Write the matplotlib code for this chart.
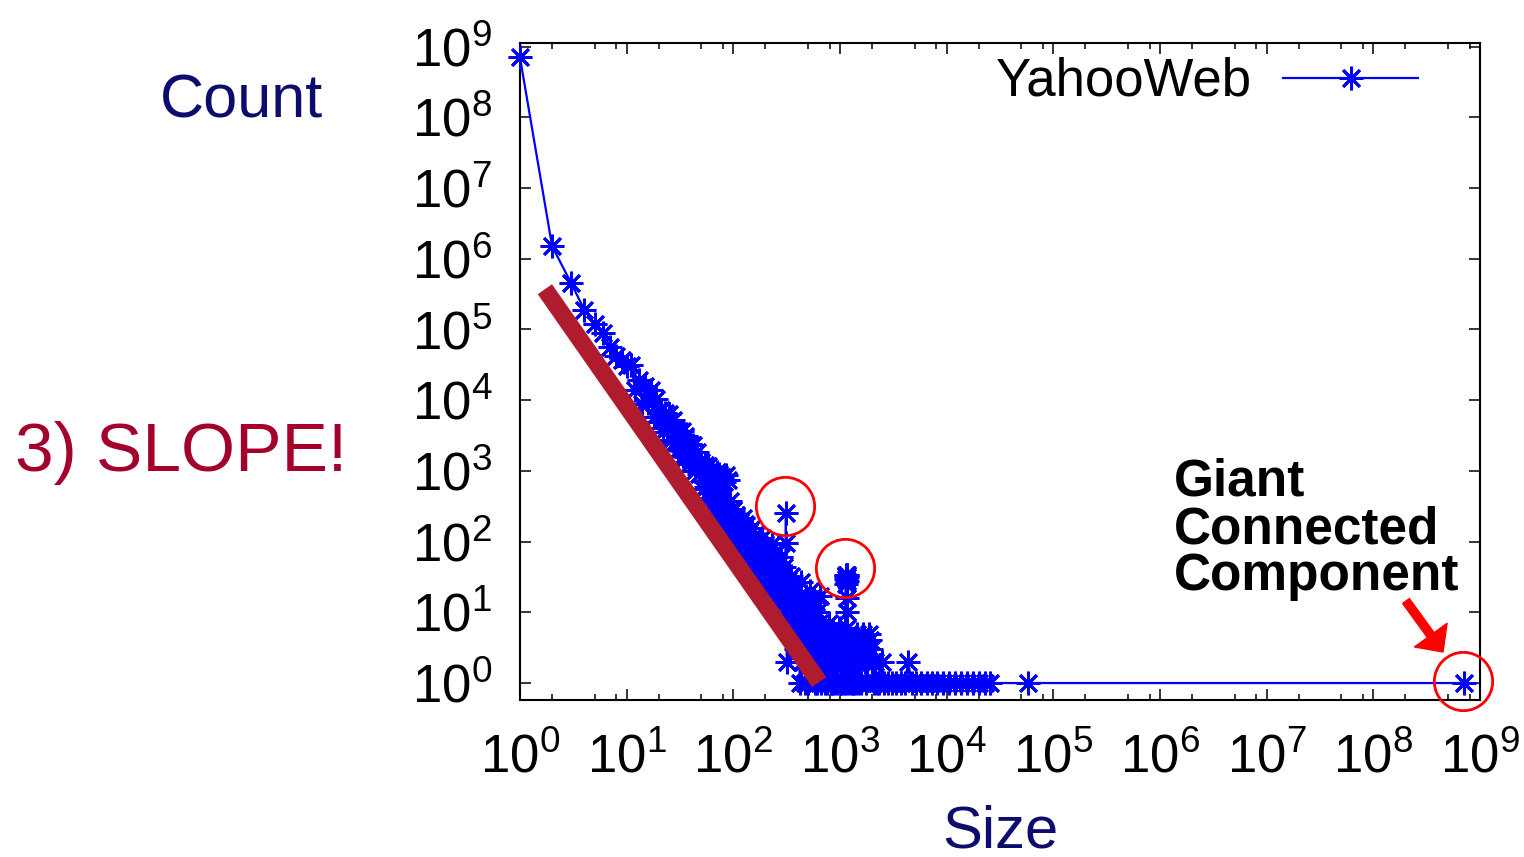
import matplotlib
matplotlib.use("Agg")
import matplotlib.pyplot as plt
from matplotlib import font_manager
from matplotlib.ticker import FixedLocator, NullFormatter, NullLocator

# ---------------------------------------------------------------------------
# Connected-component size distribution of the YahooWeb graph
# ---------------------------------------------------------------------------
size_head = [1, 2, 3, 4, 5, 6, 7, 8, 9, 10]
count_head = [700000000, 1500000, 460000, 190000, 120000, 90000, 56000, 42000, 37000, 30000]

size_band = list(range(11, 41)) + list(range(42, 101, 2))
count_band = [31600, 13900, 19000, 8900, 15900, 9100, 13800, 5700, 10400, 4900,
              7200, 3600, 6600, 4000, 6400, 2700, 5200, 2500, 3800, 1950,
              3700, 2300, 3700, 1630, 3100, 1550, 2400, 1240, 2400, 1490,
              2300, 990, 1850, 890, 1320, 550, 1210, 600, 1190, 420,
              960, 380, 880, 300, 950, 340, 900, 250, 820, 230,
              700, 190, 880, 220, 750, 165, 375, 150, 290, 282]

size_mass = [104, 107, 111, 115, 119, 123, 127, 132, 136, 141, 146, 151, 157, 162,
             168, 174, 180, 186, 193, 200, 207, 214, 221, 229, 237, 245, 254, 263,
             272, 282, 292, 302, 310, 311, 313, 318, 324, 335, 347, 359, 372, 385,
             398, 412, 420, 427, 442, 457, 473, 490, 507, 525, 543, 562, 582, 603,
             624, 646, 668, 692, 716, 741, 767, 794, 822, 851, 881, 912, 944, 977,
             1012, 1047, 1084]
count_mass = [110, 167, 81, 189, 112, 219, 72, 119, 52, 135, 75, 156, 47, 80,
              33, 93, 50, 113, 31, 57, 21, 72, 35, 91, 20, 40, 13, 50,
              23, 61, 13, 26, 95, 256, 8, 2, 29, 13, 33, 6, 12, 3,
              16, 6, 1, 27, 2, 7, 1, 12, 3, 20, 2, 6, 1, 10,
              3, 17, 1, 4, 1, 5, 2, 7, 1, 3, 1, 4, 2, 6,
              1, 3, 1]

size_mass_b = [102, 105, 109, 113, 117, 121, 125, 130, 134, 138, 143, 148, 154, 160,
               165, 171, 177, 183, 190, 196, 203, 210, 217, 225, 233, 241, 250, 258,
               267, 277, 287, 297, 329, 341, 353, 365, 378, 391, 405, 416, 434, 449,
               465, 481, 498, 516, 534, 552, 572, 592, 613, 635, 657, 680, 704, 728,
               754, 780, 808, 836, 866, 896, 928, 960, 994, 1029, 1065]
count_mass_b = [133, 237, 89, 173, 130, 85, 90, 178, 57, 122, 89, 56, 59, 124,
                37, 83, 60, 37, 40, 92, 24, 62, 43, 24, 27, 69, 15, 43,
                29, 16, 17, 44, 7, 20, 13, 6, 7, 20, 3, 12, 6, 2,
                3, 17, 1, 8, 4, 2, 2, 14, 1, 7, 4, 2, 2, 6,
                1, 4, 3, 1, 2, 5, 1, 4, 3, 1, 2]

size_spike = [1136, 1138, 1140, 1143, 1145, 1147, 1150, 1152, 1154, 1157, 1159, 1161,
              1164, 1166, 1168]
count_spike = [34, 1, 30, 4, 33, 2, 25, 6, 34, 10, 32, 16, 34, 3, 28]

size_tail = [1180, 1210, 1250, 1290, 1330, 1380, 1420, 1450, 1480, 1520, 1570, 1640,
             1700, 1760, 1830, 1900, 1990, 2080, 2200, 2330, 2460, 2600, 2800, 3050,
             3350, 3700, 4050, 4350, 4700, 5200, 5800, 6500, 7300, 8200, 9300, 10500,
             12000, 13700, 15600, 17800, 20300, 23000, 25400, 57700, 703000000]
count_tail = [2, 1, 3, 1, 2, 1, 3, 5, 1, 3, 1, 5,
              2, 1, 3, 4, 2, 1, 1, 1, 2, 1, 1, 1,
              1, 1, 1, 2, 1, 1, 1, 1, 1, 1, 1, 1,
              1, 1, 1, 1, 1, 1, 1, 1, 1]

size_tail_b = [1195, 1230, 1270, 1310, 1355, 1400, 1465, 1500, 1545, 1600, 1670, 1730,
               1800, 1860, 1950, 2040, 2130]
count_tail_b = [3, 2, 4, 1, 3, 2, 3, 4, 2, 3, 4, 3, 2, 5, 3, 2, 2]

# one series, ordered by component size
pairs = sorted(zip(size_head + size_band + size_mass + size_mass_b + size_spike
                   + size_tail + size_tail_b,
                   count_head + count_band + count_mass + count_mass_b + count_spike
                   + count_tail + count_tail_b),
               key=lambda p: p[0])
sizes = [p[0] for p in pairs]
counts = [p[1] for p in pairs]

# power-law guide line and highlighted points
slope_x = [1.71, 638]
slope_y = [3.7e5, 1.03]
ring_x = [305, 1112, 6.9e8]
ring_y = [319, 42, 1.08]

x_ticks = [10 ** k for k in range(0, 10)]
y_ticks = [10 ** k for k in range(0, 10)]
x_minor = [m * 10 ** k for k in range(0, 9) for m in (2, 5, 8)]

# ---------------------------------------------------------------------------
available = {f.name for f in font_manager.fontManager.ttflist}
narrow = "Liberation Sans Narrow" if "Liberation Sans Narrow" in available else "Liberation Sans"

plt.rcParams["font.family"] = ["Liberation Sans", "DejaVu Sans"]
plt.rcParams["mathtext.fontset"] = "custom"
plt.rcParams["mathtext.rm"] = narrow
plt.rcParams["mathtext.it"] = narrow
plt.rcParams["mathtext.bf"] = narrow
plt.rcParams["mathtext.default"] = "rm"

W, H = 1524, 857
fig = plt.figure(figsize=(W / 100, H / 100), dpi=100)
ax = fig.add_axes([520 / W, (H - 700) / H, 960 / W, 657 / H])

ax.set_xscale("log")
ax.set_yscale("log")
ax.set_xlim(1, 1e9)
ax.set_ylim(10 ** -0.24, 10 ** 9.05)

ax.plot(sizes, counts, color="#0000ff", lw=1.6, marker=(8, 2, 0), ms=17, mew=2.0,
        clip_on=False, zorder=3, label="YahooWeb")

ax.plot(slope_x, slope_y, color="#b11b2e", lw=12.5, solid_capstyle="butt", zorder=5)
ax.plot(ring_x, ring_y, linestyle="none", marker="o", ms=42, mfc="none",
        mec="#ff0000", mew=2.0, clip_on=False, zorder=6)

ax.xaxis.set_major_locator(FixedLocator(x_ticks))
ax.xaxis.set_minor_locator(FixedLocator(x_minor))
ax.xaxis.set_minor_formatter(NullFormatter())
ax.yaxis.set_major_locator(FixedLocator(y_ticks))
ax.yaxis.set_minor_locator(NullLocator())
ax.set_xticklabels([f"$10^{{{k}}}$" for k in range(0, 10)])
ax.set_yticklabels([f"$10^{{{k}}}$" for k in range(0, 10)])

ax.tick_params(which="both", direction="in", top=True, right=True, width=1.1, color="black")
ax.tick_params(which="major", length=8, labelsize=38)
ax.tick_params(which="minor", length=4)
ax.tick_params(axis="x", pad=24)
ax.tick_params(axis="y", pad=20)
for sp in ax.spines.values():
    sp.set_linewidth(1.5)

leg = ax.legend(loc="center right", bbox_to_anchor=(1418 / W, 1 - 82 / H),
                bbox_transform=fig.transFigure, frameon=False, markerfirst=False,
                numpoints=1, handlelength=2.55, handletextpad=0.6, borderpad=0,
                borderaxespad=0, prop={"family": narrow, "size": 38})

navy = "#0c0c6e"
fig.text(160 / W, 1 - 117 / H, "Count", fontsize=44, color=navy, va="baseline", ha="left")
fig.text(942 / W, 1 - 848 / H, "Size", fontsize=43, color=navy, va="baseline", ha="left")
fig.text(15 / W, 1 - 471 / H, "3) SLOPE!", fontsize=50, color="#a4002c", va="baseline", ha="left")
for txt, base in (("Giant", 495), ("Connected", 543), ("Component", 590)):
    fig.text(1174 / W, 1 - base / H, txt, fontsize=37, fontweight="bold", color="black",
             va="baseline", ha="left")

ax.annotate("", xy=(1443, H - 652), xycoords="figure pixels",
            xytext=(1406, H - 601), textcoords="figure pixels",
            arrowprops=dict(arrowstyle="simple,head_length=1.5,head_width=2.9,tail_width=0.6",
                            color="#ff0000", mutation_scale=10, shrinkA=0, shrinkB=0))

fig.savefig("out.png", dpi=100)
